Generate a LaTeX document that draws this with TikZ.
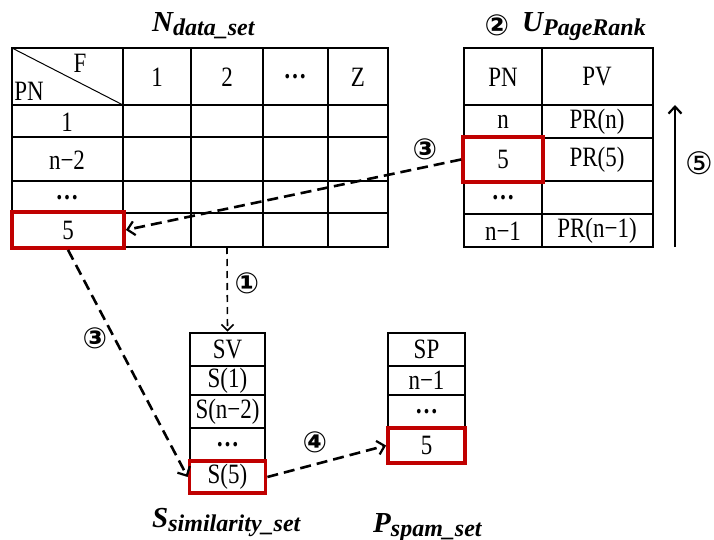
\documentclass[tikz,border=0pt]{standalone}
\usepackage{fontspec}
\setmainfont{Liberation Serif}
\newfontfamily\tabfont[FakeStretch=0.82]{Liberation Serif}
\newfontfamily\circfont{DejaVu Sans}
\usetikzlibrary{arrows.meta,calc}
\definecolor{redc}{RGB}{192,0,0}
\newcommand{\ttl}[2]{{\bfseries\itshape\fontsize{29}{29}\selectfont #1\raisebox{-4pt}{\fontsize{24}{24}\selectfont #2}}}
\begin{document}
\begin{tikzpicture}[x=1pt,y=-1pt,
  grid/.style={line width=2.8pt},
  txt/.style={font=\tabfont\fontsize{28}{28}\selectfont, inner sep=0pt},
  cellbox/.style={draw, line width=2.8pt, inner sep=0pt, minimum width=75pt, font=\tabfont\fontsize{28}{28}\selectfont},
  redbox/.style={draw=redc, line width=3.8pt, inner sep=0pt, font=\tabfont\fontsize{28}{28}\selectfont},
  circ/.style={font=\circfont\bfseries\fontsize{29}{29}\selectfont, inner sep=0pt},
  circthin/.style={font=\circfont\fontsize{31}{31}\selectfont, inner sep=0pt},
  thickdash/.style={line width=2.6pt, dash pattern=on 11pt off 6pt, -{Straight Barb[length=7pt,width=14pt,line width=2.2pt]}},
  thindash/.style={line width=1.6pt, dash pattern=on 7pt off 5pt, -{Straight Barb[length=6pt,width=12pt,line width=1.6pt]}},
  solidarrow/.style={line width=2.2pt, -{Straight Barb[length=7pt,width=13pt,line width=2.2pt]}},
  title/.style={inner sep=0pt, anchor=base west}
]
\useasboundingbox (0,0) rectangle (714,540);

% ---------- N table ----------
\draw[grid] (12,48) rectangle (388,247);
\foreach \x in {123,191,263,328} \draw[grid] (\x,48) -- (\x,247);
\foreach \y in {105,137,181,213} \draw[grid] (12,\y) -- (388,\y);
\draw[line width=1pt] (12,48) -- (123,105);
\node[txt] (nF) at (80,63) {F};
\node[txt] (nPN) at (29,91) {PN};
\node[txt] (nh1) at (157,77) {1};
\node[txt] (nh2) at (227,77) {2};
\node[txt] (nh3) at (295,77) {\bfseries …};
\node[txt] (nhZ) at (358,77) {Z};
\node[txt] (nr1) at (67,122) {1};
\node[txt] (nr2) at (67,160) {n−2};
\node[txt] (nr3) at (67,198) {\bfseries …};
\node[redbox, minimum width=112pt, minimum height=36pt] (nred) at (68,230) {5};
\node[title] (ntitle) at (152,32) {\ttl{N}{data\_set}};
\coordinate (nbot) at (227,247);

% ---------- U table ----------
\draw[grid] (464,48) rectangle (653,247);
\draw[grid] (542,48) -- (542,247);
\foreach \y in {105,138,181,214} \draw[grid] (464,\y) -- (653,\y);
\node[txt] (uPN) at (503,77) {PN};
\node[txt] (uPV) at (597,77) {PV};
\node[txt] (ur1) at (503,122) {n};
\node[txt] (uv1) at (597,122) {PR(n)};
\node[txt] (uv2) at (597,160) {PR(5)};
\node[txt] (ur3) at (503,198) {\bfseries …};
\node[txt] (ur4) at (503,231) {n−1};
\node[txt] (uv4) at (597,231) {PR(n−1)};
\node[redbox, minimum width=80pt, minimum height=45pt] (ured) at (503,159.5) {5};
\node[circ] (c2) at (497,25) {②};
\node[title] (utitle) at (522,32) {\ttl{U}{PageRank}};

% ---------- SV table ----------
\node[cellbox, minimum height=33pt] (svh) at (227.5,349.5) {SV};
\node[cellbox, minimum height=29pt] (sv1) at (227.5,380.5) {S(1)};
\node[cellbox, minimum height=33pt] (sv2) at (227.5,411.5) {S(n−2)};
\node[cellbox, minimum height=33pt] (sv3) at (227.5,444.5) {\bfseries …};
\node[redbox, minimum width=76pt, minimum height=32pt] (sv5) at (227.5,477) {S(5)};
\node[title] (stitle) at (152,527) {\ttl{S}{similarity\_set}};

% ---------- SP table ----------
\node[cellbox, minimum width=77pt, minimum height=33pt] (sph) at (426.5,349.5) {SP};
\node[cellbox, minimum width=77pt, minimum height=29pt] (sp1) at (426.5,380.5) {n−1};
\node[cellbox, minimum width=77pt, minimum height=33pt] (sp2) at (426.5,411.5) {\bfseries …};
\node[redbox, minimum width=77pt, minimum height=35pt] (sp5) at (426.5,445.5) {5};
\node[title] (ptitle) at (373,532) {\ttl{P}{spam\_set}};

% ---------- arrows ----------
\draw[thickdash] (ured.west) -- (nred.east);
\node[circ] (c3a) at (425,149) {③};
\draw[thickdash] (nred.south) -- (sv5.west);
\node[circ] (c3b) at (95,338) {③};
\draw[thindash] (nbot) -- (svh.north);
\node[circ] (c1) at (247,283) {①};
\draw[thickdash] (sv5.east) -- (sp5.west);
\node[circ] (c4) at (315,442) {④};
\coordinate (a5s) at (675,247);
\coordinate (a5e) at (675,105);
\draw[solidarrow] (a5s) -- (a5e);
\node[circthin] (c5) at (699,163) {⑤};
\end{tikzpicture}
\end{document}
